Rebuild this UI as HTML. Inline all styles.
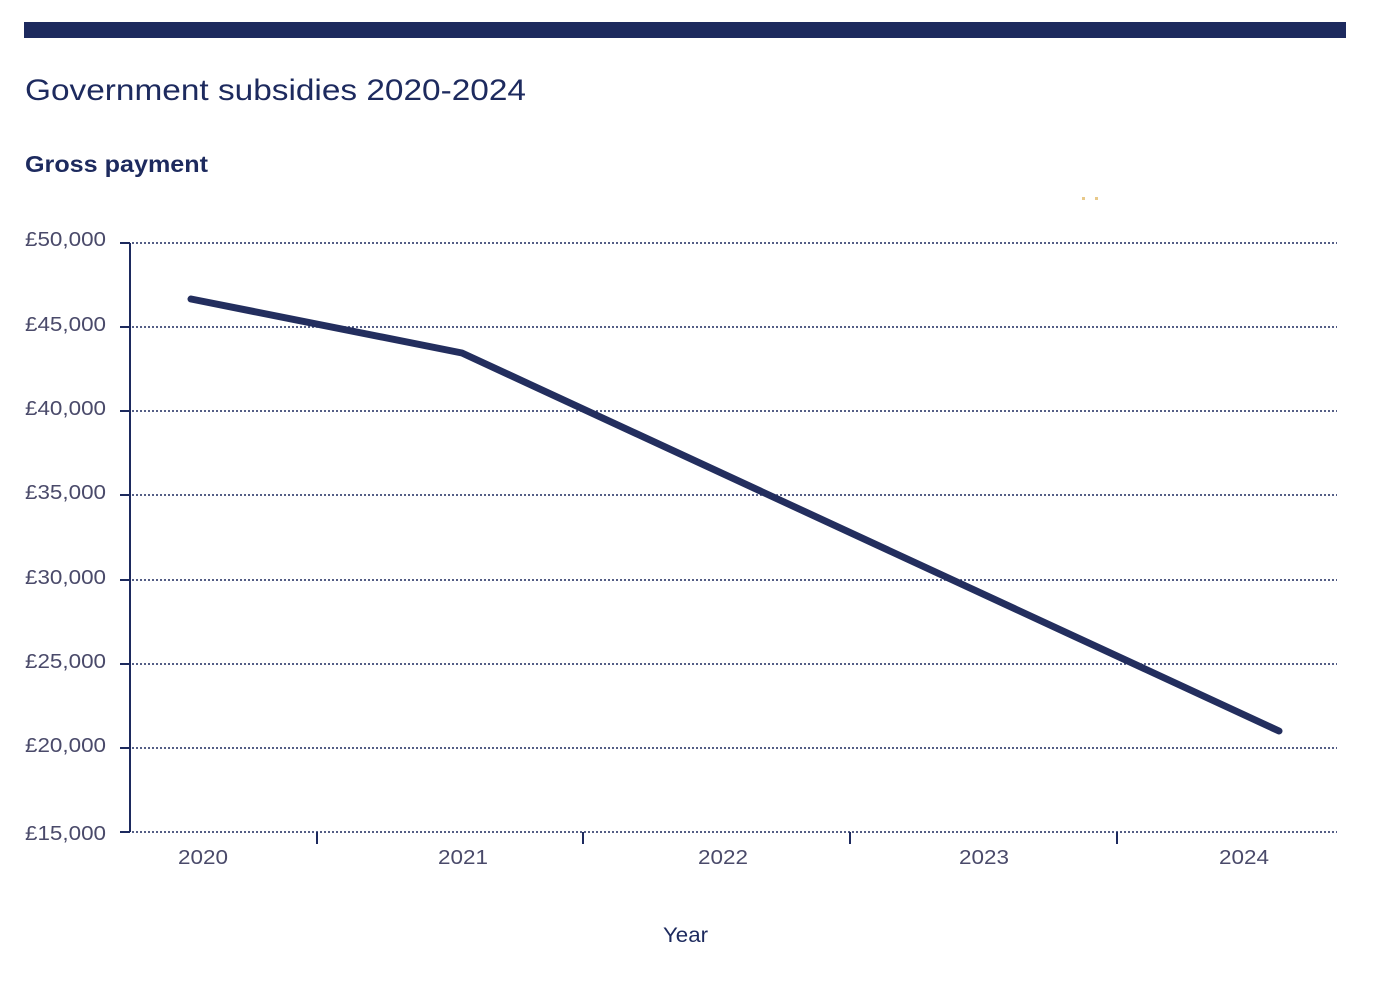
<!DOCTYPE html>
<html><head><meta charset="utf-8"><style>
html,body{margin:0;padding:0;background:#fff;}
body{width:1376px;height:986px;overflow:hidden;font-family:"Liberation Sans",sans-serif;}
</style></head><body>
<svg width="1376" height="986" viewBox="0 0 1376 986" xmlns="http://www.w3.org/2000/svg">
<rect x="24" y="22" width="1322" height="16" fill="#1d2a5e"/>
<text x="25" y="100" font-family="Liberation Sans, sans-serif" font-size="30" fill="#1d2a5e" textLength="501" lengthAdjust="spacingAndGlyphs">Government subsidies 2020-2024</text>
<text x="25" y="172" font-family="Liberation Sans, sans-serif" font-size="23" font-weight="bold" fill="#1d2a5e" textLength="183" lengthAdjust="spacingAndGlyphs">Gross payment</text>
<rect x="1082" y="197" width="3" height="3" fill="#e8c98a"/><rect x="1095" y="197" width="3" height="3" fill="#e8c98a"/>
<g stroke="#1d2a5e" stroke-width="1.5" stroke-dasharray="2,2">
<line x1="120" y1="243" x2="1337" y2="243"/>
<line x1="120" y1="327" x2="1337" y2="327"/>
<line x1="120" y1="411" x2="1337" y2="411"/>
<line x1="120" y1="495" x2="1337" y2="495"/>
<line x1="120" y1="580" x2="1337" y2="580"/>
<line x1="120" y1="664" x2="1337" y2="664"/>
<line x1="120" y1="748" x2="1337" y2="748"/>
<line x1="120" y1="832" x2="1337" y2="832"/>
</g>
<line x1="130" y1="243" x2="130" y2="832" stroke="#1d2a5e" stroke-width="2"/>
<g stroke="#1d2a5e" stroke-width="2">
<line x1="120" y1="243" x2="130" y2="243"/><line x1="120" y1="327" x2="130" y2="327"/>
<line x1="120" y1="411" x2="130" y2="411"/><line x1="120" y1="495" x2="130" y2="495"/>
<line x1="120" y1="580" x2="130" y2="580"/><line x1="120" y1="664" x2="130" y2="664"/>
<line x1="120" y1="748" x2="130" y2="748"/><line x1="120" y1="832" x2="130" y2="832"/>
<line x1="317" y1="832" x2="317" y2="844"/><line x1="583" y1="832" x2="583" y2="844"/>
<line x1="850" y1="832" x2="850" y2="844"/><line x1="1117" y1="832" x2="1117" y2="844"/>
</g>
<g font-family="Liberation Sans, sans-serif" font-size="20" fill="#4a4a6a">
<text x="25" y="246" textLength="81" lengthAdjust="spacingAndGlyphs">£50,000</text>
<text x="25" y="331" textLength="81" lengthAdjust="spacingAndGlyphs">£45,000</text>
<text x="25" y="415" textLength="81" lengthAdjust="spacingAndGlyphs">£40,000</text>
<text x="25" y="499" textLength="81" lengthAdjust="spacingAndGlyphs">£35,000</text>
<text x="25" y="584" textLength="81" lengthAdjust="spacingAndGlyphs">£30,000</text>
<text x="25" y="668" textLength="81" lengthAdjust="spacingAndGlyphs">£25,000</text>
<text x="25" y="752" textLength="81" lengthAdjust="spacingAndGlyphs">£20,000</text>
<text x="25" y="840" textLength="81" lengthAdjust="spacingAndGlyphs">£15,000</text>
</g>
<g font-family="Liberation Sans, sans-serif" font-size="20" fill="#4a4a6a">
<text x="178" y="864" textLength="50" lengthAdjust="spacingAndGlyphs">2020</text>
<text x="438" y="864" textLength="50" lengthAdjust="spacingAndGlyphs">2021</text>
<text x="698" y="864" textLength="50" lengthAdjust="spacingAndGlyphs">2022</text>
<text x="959" y="864" textLength="50" lengthAdjust="spacingAndGlyphs">2023</text>
<text x="1219" y="864" textLength="50" lengthAdjust="spacingAndGlyphs">2024</text>
</g>
<text x="663" y="942" font-family="Liberation Sans, sans-serif" font-size="21" fill="#1d2a5e" textLength="45" lengthAdjust="spacingAndGlyphs">Year</text>
<polyline points="191,299 462,353 1279,731" fill="none" stroke="#232e5e" stroke-width="7" stroke-linecap="round" stroke-linejoin="round"/>
</svg>
</body></html>
